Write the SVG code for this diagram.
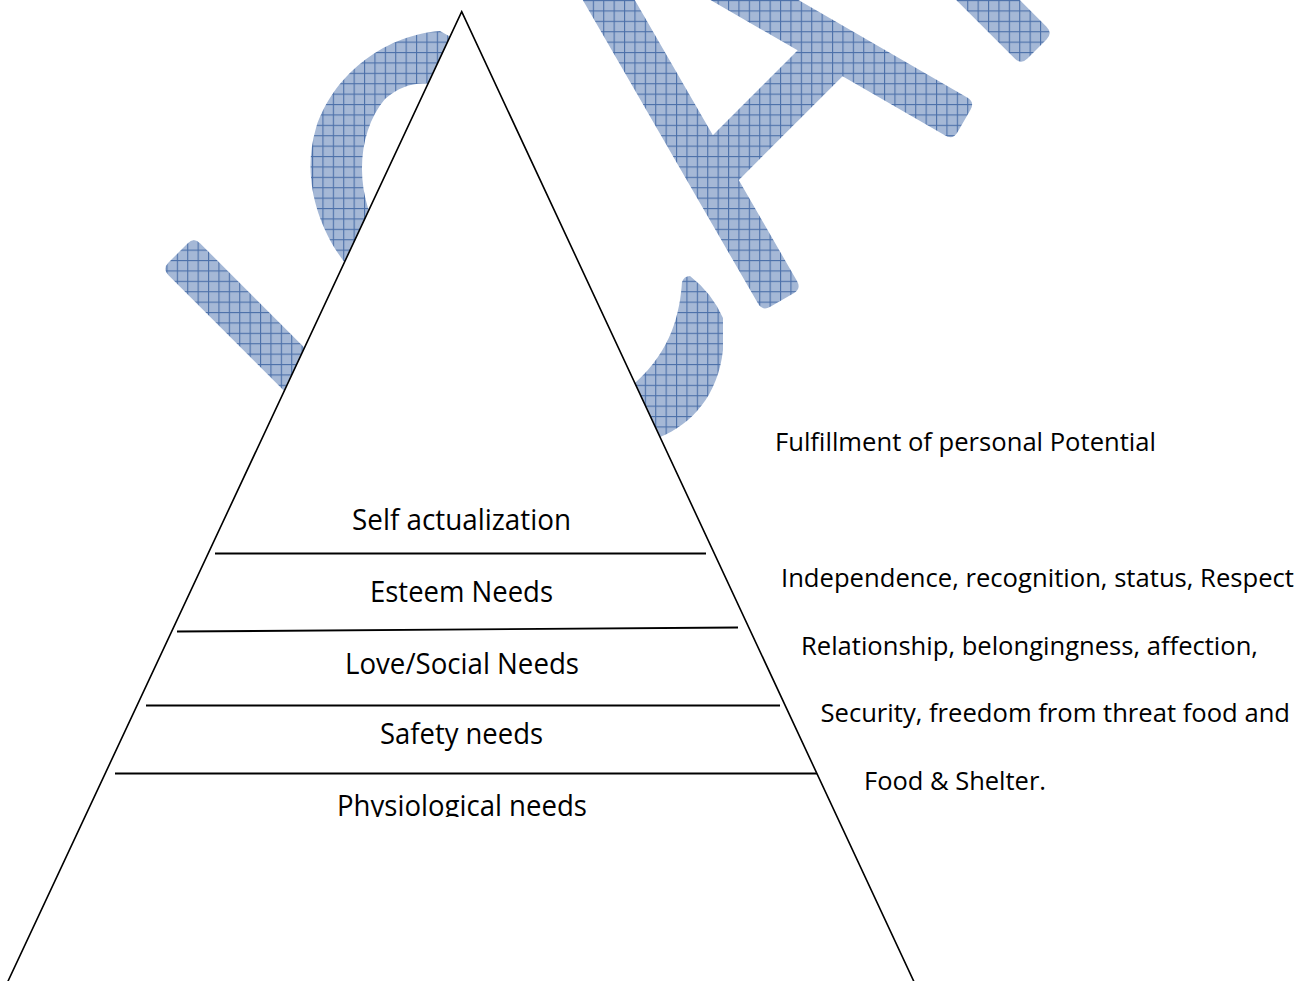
<svg xmlns="http://www.w3.org/2000/svg" width="1310" height="981" viewBox="0 0 1310 981">
<defs>
<pattern id="hatch" patternUnits="userSpaceOnUse" x="0" y="0" width="10.4" height="10.4">
<rect width="10.4" height="10.4" fill="#a5b8d6"/>
<rect width="1.1" height="10.4" fill="#4c70a9"/>
<rect width="10.4" height="1.1" fill="#4c70a9"/>
</pattern>
<clipPath id="clipPhys"><rect x="0" y="760" width="1310" height="57"/></clipPath>
</defs>
<style>
.wm { fill: url(#hatch); stroke: none; }
.edge { fill: #ffffff; stroke: #000000; stroke-width: 1.6; }
.div { stroke: #000000; stroke-width: 1.9; fill: none; }
.lvl { font-family: "Open Sans", "Liberation Sans", sans-serif; font-size: 28.7px; fill: #000000; }
.desc { font-family: "Open Sans", "Liberation Sans", sans-serif; font-size: 26.3px; fill: #000000; }
</style>
<rect width="1310" height="981" fill="#ffffff"/>

<g id="watermark">
<path class="wm" d="M 370.7,413.9 L 200.3,243.5 Q 193.9,237.1 187.5,243.5 L 168.5,262.5 Q 162.1,268.9 168.5,275.3 L 338.9,445.7 Z"/>
<path class="wm" d="M 465,45 L 440,31 C 380,36 332,78 316,128 C 302,175 316,225 345,263 Q 470,520 660,437 C 692,424 718,395 723,350 L 723,318 Q 712,293 690,276 Q 684,276 682,282 C 680,312 672,350 635,383 Q 480,420 368,208 C 356,170 362,126 385,99 C 400,86 415,82 430,84 Z"/>
<path class="wm" d="M 601.5,-57.65 L 797,281 Q 801.5,288.75 793.7,293.25 L 770.3,306.75 Q 762.5,311.25 758,303.5 L 562.5,-35.15 Z"/>
<path class="wm" d="M 671.9,-73.05 L 967.2,97.45 Q 975,101.95 970.5,109.74 L 957.5,132.26 Q 953,140.05 945.2,135.55 L 649.9,-34.95 Z"/>
<path class="wm" d="M 691.8,156.3 L 818.7,29.3 L 854.1,64.7 L 727.2,191.7 Z"/>
<path class="wm" d="M 968,-51.8 L 1046.5,26.7 Q 1052.9,33.1 1046.5,39.5 L 1027.5,58.5 Q 1021.1,64.9 1014.7,58.5 L 936.2,-20 Z"/>
</g>

<g id="pyramid">
<polygon class="edge" points="461.7,11.7 922.5,1000 -0.8,1000"/>
</g>

<g id="connectors">
<line class="div" x1="215" y1="553.5" x2="706" y2="553.5"/>
<line class="div" x1="177" y1="631.5" x2="738" y2="627.5"/>
<line class="div" x1="146" y1="705.5" x2="780" y2="705.5"/>
<line class="div" x1="115" y1="773.5" x2="817" y2="773.5"/>
</g>

<g id="level-self-actualization">
<text class="lvl" x="352" y="529.5" textLength="219" lengthAdjust="spacingAndGlyphs">Self actualization</text>
</g>
<g id="level-esteem">
<text class="lvl" x="370" y="601.5" textLength="183" lengthAdjust="spacingAndGlyphs">Esteem Needs</text>
</g>
<g id="level-love-social">
<text class="lvl" x="345" y="673.5" textLength="234" lengthAdjust="spacingAndGlyphs">Love/Social Needs</text>
</g>
<g id="level-safety">
<text class="lvl" x="380" y="743.5" textLength="163" lengthAdjust="spacingAndGlyphs">Safety needs</text>
</g>
<g id="level-physiological" clip-path="url(#clipPhys)">
<text class="lvl" x="337" y="816" textLength="250" lengthAdjust="spacingAndGlyphs">Physiological needs</text>
</g>

<g id="desc-self-actualization">
<text class="desc" x="775" y="451" textLength="381" lengthAdjust="spacingAndGlyphs">Fulfillment of personal Potential</text>
</g>
<g id="desc-esteem">
<text class="desc" x="781" y="587" textLength="513" lengthAdjust="spacingAndGlyphs">Independence, recognition, status, Respect</text>
</g>
<g id="desc-love-social">
<text class="desc" x="801" y="655" textLength="457" lengthAdjust="spacingAndGlyphs">Relationship, belongingness, affection,</text>
</g>
<g id="desc-safety">
<text class="desc" x="820.5" y="722" textLength="469.5" lengthAdjust="spacingAndGlyphs">Security, freedom from threat food and</text>
</g>
<g id="desc-physiological">
<text class="desc" x="864" y="790" textLength="182" lengthAdjust="spacingAndGlyphs">Food &amp; Shelter.</text>
</g>
</svg>
